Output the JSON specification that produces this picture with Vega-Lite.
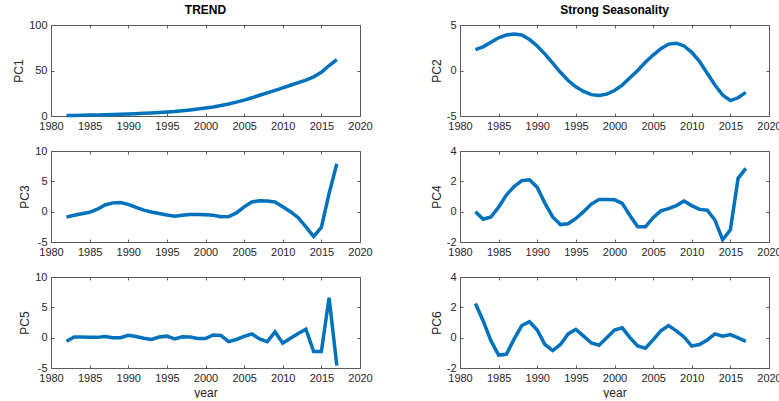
{
  "$schema": "https://vega.github.io/schema/vega-lite/v6.json",
  "padding": {"left": 12, "top": 4, "right": 0, "bottom": 0},
  "background": "white",
  "data": {"values": [
    {"year": 1982, "PC1": 0.5, "PC2": 2.3, "PC3": -0.9, "PC4": 0, "PC5": -0.6, "PC6": 2.25},
    {"year": 1983, "PC1": 0.6, "PC2": 2.6, "PC3": -0.6, "PC4": -0.5, "PC5": 0.1, "PC6": 1.1},
    {"year": 1984, "PC1": 0.8, "PC2": 3.1, "PC3": -0.35, "PC4": -0.35, "PC5": 0.1, "PC6": -0.2},
    {"year": 1985, "PC1": 1.0, "PC2": 3.6, "PC3": -0.1, "PC4": 0.3, "PC5": 0.05, "PC6": -1.15},
    {"year": 1986, "PC1": 1.2, "PC2": 3.9, "PC3": 0.4, "PC4": 1.1, "PC5": 0.05, "PC6": -1.1},
    {"year": 1987, "PC1": 1.4, "PC2": 4.0, "PC3": 1.1, "PC4": 1.65, "PC5": 0.2, "PC6": -0.1},
    {"year": 1988, "PC1": 1.7, "PC2": 3.9, "PC3": 1.45, "PC4": 2.05, "PC5": 0, "PC6": 0.8},
    {"year": 1989, "PC1": 2.0, "PC2": 3.4, "PC3": 1.5, "PC4": 2.1, "PC5": 0, "PC6": 1.05},
    {"year": 1990, "PC1": 2.3, "PC2": 2.7, "PC3": 1.2, "PC4": 1.6, "PC5": 0.4, "PC6": 0.5},
    {"year": 1991, "PC1": 2.6, "PC2": 1.8, "PC3": 0.7, "PC4": 0.55, "PC5": 0.2, "PC6": -0.45},
    {"year": 1992, "PC1": 3.0, "PC2": 0.8, "PC3": 0.25, "PC4": -0.35, "PC5": -0.1, "PC6": -0.85},
    {"year": 1993, "PC1": 3.4, "PC2": -0.2, "PC3": -0.05, "PC4": -0.85, "PC5": -0.3, "PC6": -0.45},
    {"year": 1994, "PC1": 3.9, "PC2": -1.1, "PC3": -0.3, "PC4": -0.8, "PC5": 0.1, "PC6": 0.25},
    {"year": 1995, "PC1": 4.4, "PC2": -1.8, "PC3": -0.55, "PC4": -0.45, "PC5": 0.25, "PC6": 0.55},
    {"year": 1996, "PC1": 5.0, "PC2": -2.3, "PC3": -0.75, "PC4": 0, "PC5": -0.2, "PC6": 0.1},
    {"year": 1997, "PC1": 5.8, "PC2": -2.65, "PC3": -0.6, "PC4": 0.5, "PC5": 0.15, "PC6": -0.35},
    {"year": 1998, "PC1": 6.7, "PC2": -2.75, "PC3": -0.45, "PC4": 0.8, "PC5": 0.1, "PC6": -0.5},
    {"year": 1999, "PC1": 7.7, "PC2": -2.6, "PC3": -0.45, "PC4": 0.8, "PC5": -0.15, "PC6": 0},
    {"year": 2000, "PC1": 8.8, "PC2": -2.2, "PC3": -0.5, "PC4": 0.78, "PC5": -0.15, "PC6": 0.5},
    {"year": 2001, "PC1": 10.0, "PC2": -1.6, "PC3": -0.6, "PC4": 0.55, "PC5": 0.45, "PC6": 0.65},
    {"year": 2002, "PC1": 11.5, "PC2": -0.8, "PC3": -0.85, "PC4": -0.25, "PC5": 0.35, "PC6": 0},
    {"year": 2003, "PC1": 13.2, "PC2": 0.0, "PC3": -0.8, "PC4": -1.0, "PC5": -0.65, "PC6": -0.55},
    {"year": 2004, "PC1": 15.2, "PC2": 0.9, "PC3": -0.2, "PC4": -1.0, "PC5": -0.3, "PC6": -0.7},
    {"year": 2005, "PC1": 17.5, "PC2": 1.7, "PC3": 0.8, "PC4": -0.4, "PC5": 0.2, "PC6": -0.15},
    {"year": 2006, "PC1": 20, "PC2": 2.4, "PC3": 1.6, "PC4": 0.05, "PC5": 0.6, "PC6": 0.45},
    {"year": 2007, "PC1": 22.8, "PC2": 2.9, "PC3": 1.8, "PC4": 0.2, "PC5": -0.2, "PC6": 0.8},
    {"year": 2008, "PC1": 25.5, "PC2": 3.0, "PC3": 1.75, "PC4": 0.4, "PC5": -0.65, "PC6": 0.45},
    {"year": 2009, "PC1": 28.2, "PC2": 2.7, "PC3": 1.6, "PC4": 0.7, "PC5": 0.95, "PC6": 0.05},
    {"year": 2010, "PC1": 31, "PC2": 2.0, "PC3": 0.8, "PC4": 0.4, "PC5": -0.9, "PC6": -0.55},
    {"year": 2011, "PC1": 33.8, "PC2": 1.0, "PC3": 0.0, "PC4": 0.15, "PC5": -0.1, "PC6": -0.45},
    {"year": 2012, "PC1": 36.6, "PC2": -0.3, "PC3": -1.0, "PC4": 0.1, "PC5": 0.7, "PC6": -0.15},
    {"year": 2013, "PC1": 39.5, "PC2": -1.6, "PC3": -2.5, "PC4": -0.55, "PC5": 1.4, "PC6": 0.25},
    {"year": 2014, "PC1": 43, "PC2": -2.7, "PC3": -4.1, "PC4": -1.85, "PC5": -2.3, "PC6": 0.1},
    {"year": 2015, "PC1": 48, "PC2": -3.3, "PC3": -2.6, "PC4": -1.2, "PC5": -2.3, "PC6": 0.2},
    {"year": 2016, "PC1": 55.5, "PC2": -3.0, "PC3": 3.0, "PC4": 2.2, "PC5": 6.6, "PC6": -0.02},
    {"year": 2017, "PC1": 62, "PC2": -2.4, "PC3": 7.9, "PC4": 2.85, "PC5": -4.6, "PC6": -0.25}
  ]},
  "columns": 2,
  "spacing": {"column": 57, "row": 14},
  "concat": [
    {
      "width": 309, "height": 91,
      "title": {"text": "TREND"},
      "layer": [
        {"mark": {"type": "line", "color": "#0072BD", "strokeWidth": 3.5},
         "encoding": {
           "x": {"field": "year", "type": "quantitative", "scale": {"domain": [1980, 2020], "nice": false, "zero": false}, "axis": {"orient": "bottom", "values": [1980,1985,1990,1995,2000,2005,2010,2015,2020], "format": "d", "title": null}},
           "y": {"field": "PC1", "type": "quantitative", "scale": {"domain": [0, 100], "nice": false}, "axis": {"orient": "left", "values": [0, 50, 100], "title": "PC1", "labelExpr": "datum.value + ''"}}}},
        {"mark": {"type": "line", "opacity": 0},
         "encoding": {
           "x": {"field": "year", "type": "quantitative", "scale": {"domain": [1980, 2020], "nice": false, "zero": false}, "axis": {"orient": "top", "values": [1980,1985,1990,1995,2000,2005,2010,2015,2020], "labels": false, "title": null}},
           "y": {"field": "PC1", "type": "quantitative", "scale": {"domain": [0, 100], "nice": false}, "axis": {"orient": "right", "values": [0, 50, 100], "labels": false, "title": null}}}}
      ],
      "resolve": {"axis": {"x": "independent", "y": "independent"}}
    },
    {
      "width": 309, "height": 91,
      "title": {"text": "Strong Seasonality"},
      "layer": [
        {"mark": {"type": "line", "color": "#0072BD", "strokeWidth": 3.5},
         "encoding": {
           "x": {"field": "year", "type": "quantitative", "scale": {"domain": [1980, 2020], "nice": false, "zero": false}, "axis": {"orient": "bottom", "values": [1980,1985,1990,1995,2000,2005,2010,2015,2020], "format": "d", "title": null}},
           "y": {"field": "PC2", "type": "quantitative", "scale": {"domain": [-5, 5], "nice": false}, "axis": {"orient": "left", "values": [-5, 0, 5], "title": "PC2", "labelExpr": "datum.value + ''"}}}},
        {"mark": {"type": "line", "opacity": 0},
         "encoding": {
           "x": {"field": "year", "type": "quantitative", "scale": {"domain": [1980, 2020], "nice": false, "zero": false}, "axis": {"orient": "top", "values": [1980,1985,1990,1995,2000,2005,2010,2015,2020], "labels": false, "title": null}},
           "y": {"field": "PC2", "type": "quantitative", "scale": {"domain": [-5, 5], "nice": false}, "axis": {"orient": "right", "values": [-5, 0, 5], "labels": false, "title": null}}}}
      ],
      "resolve": {"axis": {"x": "independent", "y": "independent"}}
    },
    {
      "width": 309, "height": 91,
      "layer": [
        {"mark": {"type": "line", "color": "#0072BD", "strokeWidth": 3.5},
         "encoding": {
           "x": {"field": "year", "type": "quantitative", "scale": {"domain": [1980, 2020], "nice": false, "zero": false}, "axis": {"orient": "bottom", "values": [1980,1985,1990,1995,2000,2005,2010,2015,2020], "format": "d", "title": null}},
           "y": {"field": "PC3", "type": "quantitative", "scale": {"domain": [-5, 10], "nice": false}, "axis": {"orient": "left", "values": [-5, 0, 5, 10], "title": "PC3", "labelExpr": "datum.value + ''"}}}},
        {"mark": {"type": "line", "opacity": 0},
         "encoding": {
           "x": {"field": "year", "type": "quantitative", "scale": {"domain": [1980, 2020], "nice": false, "zero": false}, "axis": {"orient": "top", "values": [1980,1985,1990,1995,2000,2005,2010,2015,2020], "labels": false, "title": null}},
           "y": {"field": "PC3", "type": "quantitative", "scale": {"domain": [-5, 10], "nice": false}, "axis": {"orient": "right", "values": [-5, 0, 5, 10], "labels": false, "title": null}}}}
      ],
      "resolve": {"axis": {"x": "independent", "y": "independent"}}
    },
    {
      "width": 309, "height": 91,
      "layer": [
        {"mark": {"type": "line", "color": "#0072BD", "strokeWidth": 3.5},
         "encoding": {
           "x": {"field": "year", "type": "quantitative", "scale": {"domain": [1980, 2020], "nice": false, "zero": false}, "axis": {"orient": "bottom", "values": [1980,1985,1990,1995,2000,2005,2010,2015,2020], "format": "d", "title": null}},
           "y": {"field": "PC4", "type": "quantitative", "scale": {"domain": [-2, 4], "nice": false}, "axis": {"orient": "left", "values": [-2, 0, 2, 4], "title": "PC4", "labelExpr": "datum.value + ''"}}}},
        {"mark": {"type": "line", "opacity": 0},
         "encoding": {
           "x": {"field": "year", "type": "quantitative", "scale": {"domain": [1980, 2020], "nice": false, "zero": false}, "axis": {"orient": "top", "values": [1980,1985,1990,1995,2000,2005,2010,2015,2020], "labels": false, "title": null}},
           "y": {"field": "PC4", "type": "quantitative", "scale": {"domain": [-2, 4], "nice": false}, "axis": {"orient": "right", "values": [-2, 0, 2, 4], "labels": false, "title": null}}}}
      ],
      "resolve": {"axis": {"x": "independent", "y": "independent"}}
    },
    {
      "width": 309, "height": 91,
      "layer": [
        {"mark": {"type": "line", "color": "#0072BD", "strokeWidth": 3.5},
         "encoding": {
           "x": {"field": "year", "type": "quantitative", "scale": {"domain": [1980, 2020], "nice": false, "zero": false}, "axis": {"orient": "bottom", "values": [1980,1985,1990,1995,2000,2005,2010,2015,2020], "format": "d", "title": "year", "titlePadding": 4}},
           "y": {"field": "PC5", "type": "quantitative", "scale": {"domain": [-5, 10], "nice": false}, "axis": {"orient": "left", "values": [-5, 0, 5, 10], "title": "PC5", "labelExpr": "datum.value + ''"}}}},
        {"mark": {"type": "line", "opacity": 0},
         "encoding": {
           "x": {"field": "year", "type": "quantitative", "scale": {"domain": [1980, 2020], "nice": false, "zero": false}, "axis": {"orient": "top", "values": [1980,1985,1990,1995,2000,2005,2010,2015,2020], "labels": false, "title": null}},
           "y": {"field": "PC5", "type": "quantitative", "scale": {"domain": [-5, 10], "nice": false}, "axis": {"orient": "right", "values": [-5, 0, 5, 10], "labels": false, "title": null}}}}
      ],
      "resolve": {"axis": {"x": "independent", "y": "independent"}}
    },
    {
      "width": 309, "height": 91,
      "layer": [
        {"mark": {"type": "line", "color": "#0072BD", "strokeWidth": 3.5},
         "encoding": {
           "x": {"field": "year", "type": "quantitative", "scale": {"domain": [1980, 2020], "nice": false, "zero": false}, "axis": {"orient": "bottom", "values": [1980,1985,1990,1995,2000,2005,2010,2015,2020], "format": "d", "title": "year", "titlePadding": 4}},
           "y": {"field": "PC6", "type": "quantitative", "scale": {"domain": [-2, 4], "nice": false}, "axis": {"orient": "left", "values": [-2, 0, 2, 4], "title": "PC6", "labelExpr": "datum.value + ''"}}}},
        {"mark": {"type": "line", "opacity": 0},
         "encoding": {
           "x": {"field": "year", "type": "quantitative", "scale": {"domain": [1980, 2020], "nice": false, "zero": false}, "axis": {"orient": "top", "values": [1980,1985,1990,1995,2000,2005,2010,2015,2020], "labels": false, "title": null}},
           "y": {"field": "PC6", "type": "quantitative", "scale": {"domain": [-2, 4], "nice": false}, "axis": {"orient": "right", "values": [-2, 0, 2, 4], "labels": false, "title": null}}}}
      ],
      "resolve": {"axis": {"x": "independent", "y": "independent"}}
    }
  ],
  "config": {
    "font": "Liberation Sans",
    "view": {"stroke": null},
    "title": {"font": "Liberation Sans", "fontSize": 12, "fontWeight": "bold", "color": "#000000", "offset": 2},
    "axis": {
      "grid": false,
      "domainColor": "#5a5a5a",
      "domainWidth": 1,
      "tickColor": "#5a5a5a",
      "tickSize": -3,
      "labelPadding": 7,
      "labelFont": "Liberation Sans",
      "labelFontSize": 11,
      "labelColor": "#262626",
      "labelFlush": false,
      "labelOverlap": false,
      "titleFont": "Liberation Sans",
      "titleFontSize": 12,
      "titleFontWeight": "normal",
      "titleColor": "#262626",
      "titlePadding": 3
    }
  }
}
